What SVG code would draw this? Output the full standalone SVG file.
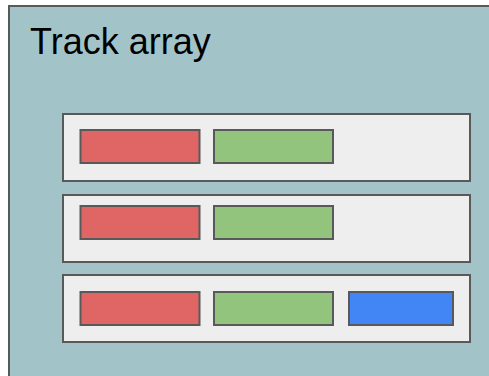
<svg xmlns="http://www.w3.org/2000/svg" width="489" height="376" viewBox="0 0 489 376">
<style>
.b{stroke:#595959;stroke-width:2}
.bg{fill:#a2c4c9}
.row{fill:#eeeeee}
.r{fill:#e06666}
.g{fill:#93c47d}
.u{fill:#4285f4}
.t{font-family:"Liberation Sans",Arial,sans-serif;font-size:36px;fill:#000}
</style>
<rect width="489" height="376" fill="#ffffff"/>
<g id="track-array">
<rect class="b bg" x="9" y="6" width="490" height="380"/>
<text class="t" x="30" y="54">Track array</text>
</g>
<g id="row1">
<rect class="b row" x="63" y="114" width="407" height="67"/>
<rect class="b r" x="80.5" y="130" width="119" height="33"/>
<rect class="b g" x="214" y="130" width="119" height="33"/>
</g>
<g id="row2">
<rect class="b row" x="63" y="195" width="407" height="67"/>
<rect class="b r" x="80.5" y="206" width="119" height="33"/>
<rect class="b g" x="214" y="206" width="119" height="33"/>
</g>
<g id="row3">
<rect class="b row" x="63" y="275" width="407" height="67"/>
<rect class="b r" x="80.5" y="292" width="119" height="33"/>
<rect class="b g" x="214" y="292" width="119" height="33"/>
<rect class="b u" x="349" y="292" width="104" height="33"/>
</g>
<g id="connectors"/>
</svg>
